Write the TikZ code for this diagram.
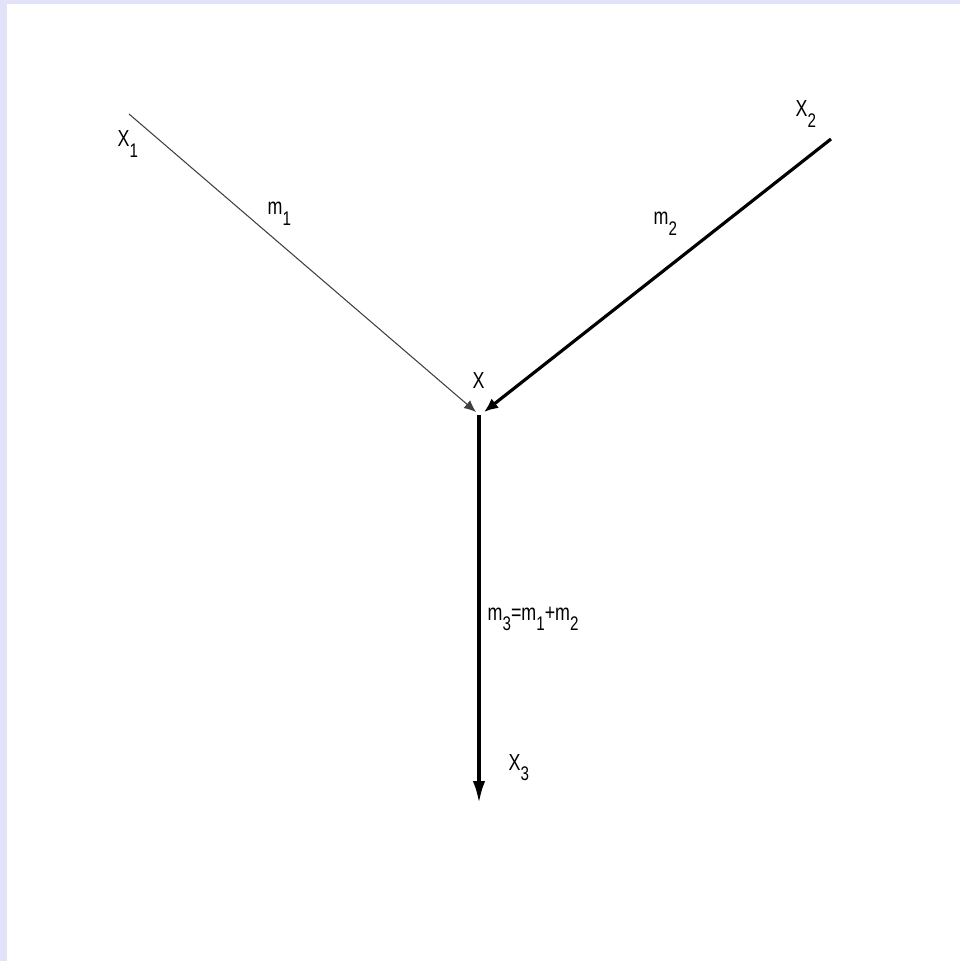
\documentclass[tikz,border=0pt]{standalone}
\usepackage{fontspec}
\setmainfont[FakeStretch=0.77]{Liberation Sans}
\usetikzlibrary{arrows.meta}
\newcommand{\lowidx}[1]{\raisebox{-3pt}{\fontsize{5.6}{6}\selectfont#1}}
\definecolor{framelav}{RGB}{226,226,248}

\begin{document}
\begin{tikzpicture}[x=0.01cm, y=-0.01cm,
    lbl/.style={font=\fontsize{6.6}{7}\selectfont, inner sep=0pt, anchor=base west},
    thinflow/.style={line width=0.3pt, black!75, -{Latex[length=3.4pt, width=2.9pt]}},
    thickflow/.style={line width=0.9pt, -{Latex[length=4pt, width=3.4pt]}},
    outflow/.style={line width=0.9pt, -{Latex[length=6.2pt, width=3.5pt]}}]

    % --- frame ---
    \fill[framelav] (0,0) rectangle (960,961);
    \fill[white] (7,4) rectangle (960,961);
    \useasboundingbox (0,0) rectangle (960,961);

    % --- points ---
    \coordinate (X1) at (129,114);
    \coordinate (X2) at (831,139);
    \coordinate (Xin1) at (476,412);
    \coordinate (Xin2) at (484,412);
    \coordinate (X) at (479,415);
    \coordinate (X3) at (479,803);

    % --- flows ---
    \draw[thinflow] (X1) -- (Xin1);
    \draw[thickflow] (X2) -- (Xin2);
    \draw[outflow] (X) -- (X3);

    % --- labels ---
    \node[lbl] (lX1) at (117,147) {X\lowidx{1}};
    \node[lbl] (lX2) at (795,117) {X\lowidx{2}};
    \node[lbl] (lX) at (472,388) {X};
    \node[lbl] (lX3) at (508,770) {X\lowidx{3}};
    \node[lbl] (lm1) at (267,215) {m\lowidx{1}};
    \node[lbl] (lm2) at (653,225) {m\lowidx{2}};
    \node[lbl] (lm3) at (487,620) {m\lowidx{3}=m\lowidx{1}+m\lowidx{2}};

\end{tikzpicture}
\end{document}
